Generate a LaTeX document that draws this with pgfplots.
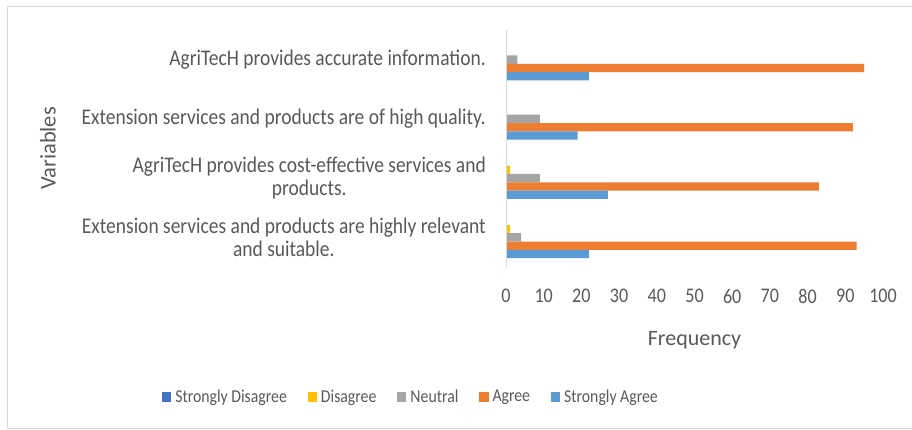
\documentclass[border=0pt]{standalone}
\usepackage{pgfplots}
\pgfplotsset{compat=1.18}
\usepackage{fontspec}
\setmainfont{Carlito}
\newfontfamily\cond{Carlito}[FakeStretch=0.87]
\definecolor{cSD}{HTML}{4472C4}
\definecolor{cD}{HTML}{FFC000}
\definecolor{cN}{HTML}{A5A5A5}
\definecolor{cA}{HTML}{ED7D31}
\definecolor{cSA}{HTML}{5B9BD5}
\definecolor{txt}{HTML}{595959}
\definecolor{frame}{HTML}{D9D9D9}
% y: 0 = highly relevant, 1 = cost-effective, 2 = high quality, 3 = accurate
\pgfplotstableread{
y SD D N A SA
0 0 1 4 93 22
1 0 1 9 83 27
2 0 0 9 92 19
3 0 0 3 95 22
}\datatable
\begin{document}
\begin{tikzpicture}
\path[use as bounding box] (0,0) rectangle (684pt,321.75pt);
\draw[frame, line width=1.2pt] (684pt,316.9pt) -- (5.6pt,316.9pt) -- (5.6pt,0.5pt) -- (684pt,0.5pt);
\begin{axis}[
  at={(379.5pt,121.5pt)}, anchor=south west,
  scale only axis, width=282.75pt, height=177.75pt,
  xbar, bar width=6.2pt,
  xmin=0, xmax=100, ymin=-0.5, ymax=3.5,
  xtick={0,10,...,100},
  ytick={0,1,2,3},
  yticklabels={{Extension services and products are highly relevant\\and suitable.},
               {AgriTecH provides cost-effective services and\\products.},
               {Extension services and products are of high quality.},
               {AgriTecH provides accurate information.}},
  major tick length=0pt,
  axis line style={draw=none},
  /pgf/number format/assume math mode=true,
  xticklabel style={font=\cond\fontsize{15.6}{18}\selectfont, text=txt, inner sep=0pt, anchor=north, yshift=-16.5pt},
  yticklabel style={font=\cond\fontsize{16.8}{17.3}\selectfont, text=txt, inner sep=0pt, anchor=east, xshift=-15pt, align=center},
  xlabel={Frequency},
  ylabel={Variables},
  xlabel style={font=\fontsize{16.5}{19}\selectfont, text=txt, at={(axis description cs:0.5,-0.308)}, anchor=center},
  ylabel style={font=\fontsize{16.8}{19}\selectfont, text=txt, at={(axis description cs:-1.215,0.5)}, anchor=center},
  legend columns=5,
  legend image code/.code={\fill[#1] (0pt,-3.4pt) rectangle (6.8pt,3.4pt);},
  legend style={draw=none, fill=none, at={(axis description cs:-0.2546,-0.5485)}, anchor=center,
    font=\cond\fontsize{13.6}{15}\selectfont, text=txt, inner sep=0pt,
    nodes={inner sep=0pt},
    /tikz/every odd column/.append style={column sep=3pt},
    /tikz/every even column/.append style={column sep=15.75pt}},
]
\addplot[fill=cSD, draw=none, bar shift=12.45pt] table[x=SD, y=y] {\datatable};
\addlegendentry{Strongly Disagree}
\addplot[fill=cD, draw=none, bar shift=6.225pt] table[x=D, y=y] {\datatable};
\addlegendentry{Disagree}
\addplot[fill=cN, draw=none, bar shift=0pt] table[x=N, y=y] {\datatable};
\addlegendentry{Neutral}
\addplot[fill=cA, draw=none, bar shift=-6.225pt] table[x=A, y=y] {\datatable};
\addlegendentry{Agree}
\addplot[fill=cSA, draw=none, bar shift=-12.45pt] table[x=SA, y=y] {\datatable};
\addlegendentry{Strongly Agree}
\draw[frame, line width=1.2pt] (rel axis cs:0,0) -- (rel axis cs:0,1);
\end{axis}
\end{tikzpicture}
\end{document}
